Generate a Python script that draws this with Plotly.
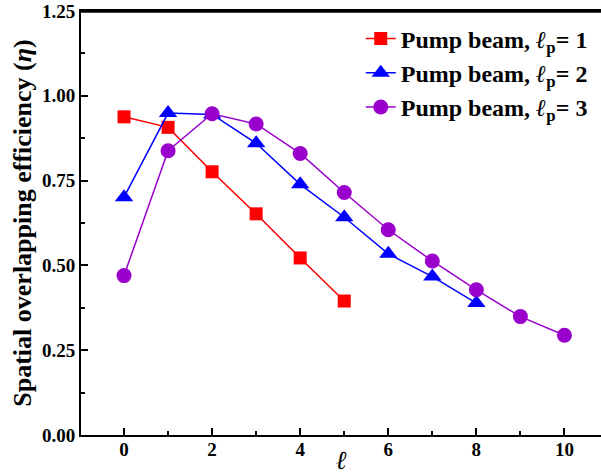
import plotly.graph_objects as go

x1 = [0, 1, 2, 3, 4, 5]
y1 = [0.938, 0.907, 0.776, 0.652, 0.522, 0.395]
x2 = [0, 1, 2, 3, 4, 5, 6, 7, 8]
y2 = [0.701, 0.949, 0.945, 0.860, 0.739, 0.642, 0.534, 0.467, 0.389]
x3 = [0, 1, 2, 3, 4, 5, 6, 7, 8, 9, 10]
y3 = [0.470, 0.838, 0.947, 0.917, 0.830, 0.715, 0.605, 0.513, 0.428, 0.349, 0.294]
names = ["<b>Pump beam, <i>ℓ</i><sub>p</sub>= 1</b>",
         "<b>Pump beam, <i>ℓ</i><sub>p</sub>= 2</b>",
         "<b>Pump beam, <i>ℓ</i><sub>p</sub>= 3</b>"]

FONT = "Liberation Serif"
fig = go.Figure()
fig.add_trace(go.Scatter(x=x1, y=y1, mode="lines+markers", name=names[0], legendgroup="a",
                         line=dict(color="#FF0000", width=1.5),
                         marker=dict(symbol="square", size=13, color="#FF0000")))
fig.add_trace(go.Scatter(x=x2, y=y2, mode="lines+markers", name=names[1], legendgroup="b",
                         line=dict(color="#0000FF", width=1.5),
                         marker=dict(symbol="triangle-up", size=16, color="#0000FF")))
fig.add_trace(go.Scatter(x=x3, y=y3, mode="lines+markers", name=names[2], legendgroup="c",
                         line=dict(color="#9900CC", width=1.5),
                         marker=dict(symbol="circle", size=15, color="#9900CC")))

# top frame line of the plot area
fig.add_shape(type="line", xref="paper", yref="paper", x0=0, x1=1, y0=0.998, y1=0.998,
              layer="above", line=dict(color="black", width=2))

fig.update_layout(
    width=601, height=475,
    margin=dict(l=81, r=0, t=11, b=40, autoexpand=False),
    plot_bgcolor="white", paper_bgcolor="white",
    font=dict(family=FONT, color="black"),
    legend=dict(x=0.538, y=0.987, xanchor="left", yanchor="top",
                font=dict(family=FONT, size=24, color="black"),
                traceorder="grouped", tracegroupgap=0,
                bgcolor="rgba(0,0,0,0)"),
    xaxis=dict(range=[-0.977, 10.83], tickvals=[0, 2, 4, 6, 8, 10],
               ticks="inside", ticklen=7, tickwidth=2, tickcolor="black",
               minor=dict(tickvals=[1, 3, 5, 7, 9], ticks="inside", ticklen=4, tickwidth=2, tickcolor="black"),
               showline=True, linewidth=2, linecolor="black", mirror=True,
               showgrid=False, zeroline=False, automargin=False,
               ticklabelstandoff=-4,
               tickfont=dict(family=FONT, size=19, color="black", weight="bold"),
               title=dict(text="<i>ℓ</i>", font=dict(family=FONT, size=26, color="black"), standoff=4)),
    yaxis=dict(range=[0, 1.25], tickvals=[0, 0.25, 0.5, 0.75, 1.0, 1.25], tickformat=".2f",
               ticks="inside", ticklen=7, tickwidth=2, tickcolor="black",
               minor=dict(tickvals=[0.125, 0.375, 0.625, 0.875, 1.125], ticks="inside", ticklen=4, tickwidth=2, tickcolor="black"),
               showline=True, linewidth=2, linecolor="black",
               showgrid=False, zeroline=False, automargin=False,
               ticklabeloverflow="allow",
               tickfont=dict(family=FONT, size=19, color="black", weight="bold"),
               title=dict(text="<b>Spatial overlapping efficiency (<i>η</i>)</b>",
                          font=dict(family=FONT, size=26, color="black"), standoff=3)),
)
fig.write_html("out.html", config={"displayModeBar": False},
               post_script="document.body.style.margin='0px';document.body.style.overflow='hidden';")
